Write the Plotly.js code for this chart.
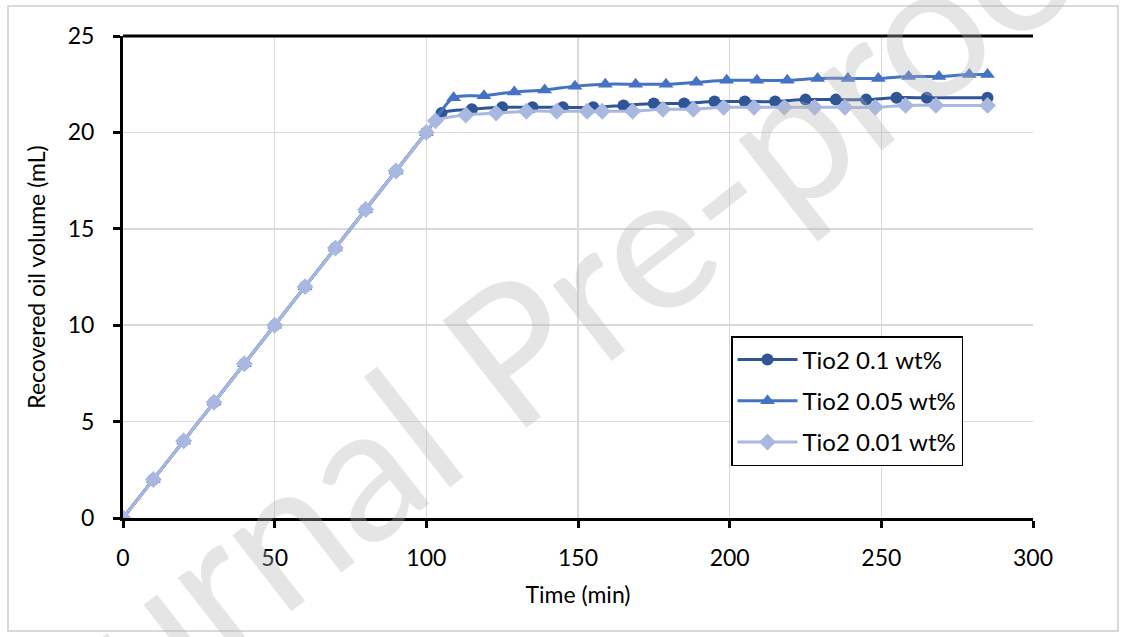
<!DOCTYPE html>
<html>
<head>
<meta charset="utf-8">
<script src="https://cdn.plot.ly/plotly-3.0.1.min.js"></script>
<style>html,body{margin:0;padding:0;background:#fff;}#chart{width:1124px;height:637px;}</style>
</head>
<body>
<div id="chart"></div>
<script>
// Series 1: TiO2 0.1 wt%
const timeA = [0,10,20,30,40,50,60,70,80,90,100,105,115,125,135,145,155,165,175,185,195,205,215,225,235,245,255,265,285];
const volA  = [0,2,4,6,8,10,12,14,16,18,20,21.0,21.2,21.3,21.3,21.3,21.3,21.4,21.5,21.5,21.6,21.6,21.6,21.7,21.7,21.7,21.8,21.8,21.8];
// Series 2: TiO2 0.05 wt%
const timeB = [0,10,20,30,40,50,60,70,80,90,100,109,119,129,139,149,159,169,179,189,199,209,219,229,239,249,259,269,279,285];
const volB  = [0,2,4,6,8,10,12,14,16,18,20,21.8,21.9,22.1,22.2,22.4,22.5,22.5,22.5,22.6,22.7,22.7,22.7,22.8,22.8,22.8,22.9,22.9,23.0,23.0];
// Series 3: TiO2 0.01 wt%
const timeC = [0,10,20,30,40,50,60,70,80,90,100,103,113,123,133,143,153,158,168,178,188,198,208,218,228,238,248,258,268,285];
const volC  = [0,2,4,6,8,10,12,14,16,18,20,20.6,20.9,21.0,21.1,21.1,21.1,21.1,21.1,21.2,21.2,21.3,21.3,21.3,21.3,21.3,21.3,21.4,21.4,21.4];

const seriesNames = ['Tio2 0.1 wt%','Tio2 0.05 wt%','Tio2 0.01 wt%'];
const xTicks = [0,50,100,150,200,250,300];
const yTicks = [0,5,10,15,20,25];

const FONT = 'Lato, "Open Sans", sans-serif';
const FS = 23;

const traces = [
  {x: timeA, y: volA, name: seriesNames[0], legendgroup:'a', type:'scatter', mode:'lines+markers',
   line:{color:'#2F5597', width:3, shape:'spline', smoothing:0.8},
   marker:{symbol:'circle', size:12, color:'#2F5597'}},
  {x: timeB, y: volB, name: seriesNames[1], legendgroup:'b', type:'scatter', mode:'lines+markers',
   line:{color:'#4472C4', width:3, shape:'spline', smoothing:0.8},
   marker:{symbol:'triangle-up', size:13, color:'#4472C4'}},
  {x: timeC, y: volC, name: seriesNames[2], legendgroup:'c', type:'scatter', mode:'lines+markers',
   line:{color:'#A9B8E0', width:3, shape:'spline', smoothing:0.8},
   marker:{symbol:'diamond', size:13, color:'#A9B8E0'}}
];

// plot area in px: left 123, right 1033, top 36, bottom 518
const L=123, R=1033, T=36, B=518, W=R-L, H=B-T;
const px = v => (v-L)/W;
const py = v => 1-(v-T)/H;

const layout = {
  width:1124, height:637,
  margin:{l:L, r:1124-R, t:T, b:637-B, pad:0},
  paper_bgcolor:'#ffffff', plot_bgcolor:'#ffffff',
  font:{family:FONT, size:FS, color:'#000000'},
  showlegend:true,
  legend:{x:px(731), y:py(336), xanchor:'left', yanchor:'top',
    bgcolor:'#ffffff', bordercolor:'#000000', borderwidth:1.5,
    traceorder:'grouped', tracegroupgap:7, itemwidth:60,
    font:{family:FONT, size:24, color:'#000000'}},
  xaxis:{range:[0,300], tickvals:xTicks, ticktext:xTicks.map(String),
    showgrid:true, gridcolor:'#D9D9D9', gridwidth:1.5,
    showline:true, linecolor:'#000000', linewidth:3,
    ticks:'outside', ticklen:7, tickwidth:3, tickcolor:'#000000',
    ticklabelstandoff:10, zeroline:false,
    tickfont:{family:FONT, size:FS},
    title:{text:'Time (min)', font:{family:FONT, size:FS}, standoff:18}},
  yaxis:{range:[0,25], tickvals:yTicks, ticktext:yTicks.map(String),
    showgrid:true, gridcolor:'#D9D9D9', gridwidth:1.5,
    showline:true, linecolor:'#000000', linewidth:3,
    ticks:'outside', ticklen:7, tickwidth:3, tickcolor:'#000000',
    ticklabelstandoff:14, zeroline:false,
    tickfont:{family:FONT, size:FS},
    title:{text:'Recovered oil volume (mL)', font:{family:FONT, size:FS}, standoff:16}},
  shapes:[
    {type:'line', xref:'paper', yref:'paper', x0:0, x1:1, y0:1, y1:1,
     line:{color:'#000000', width:3}},
    {type:'rect', xref:'paper', yref:'paper', x0:px(8), x1:px(1118), y0:py(631), y1:py(6),
     line:{color:'#D9D9D9', width:2}, fillcolor:'rgba(0,0,0,0)', layer:'below'}
  ],
  annotations:[
    {text:'Journal Pre-proof', xref:'paper', yref:'paper', x:px(525), y:py(335),
     xanchor:'center', yanchor:'middle', showarrow:false, textangle:-38,
     font:{family:FONT, size:190, color:'rgba(180,180,180,0.35)'}}
  ]
};

Plotly.newPlot('chart', traces, layout, {displayModeBar:false, staticPlot:true});
</script>
</body>
</html>
